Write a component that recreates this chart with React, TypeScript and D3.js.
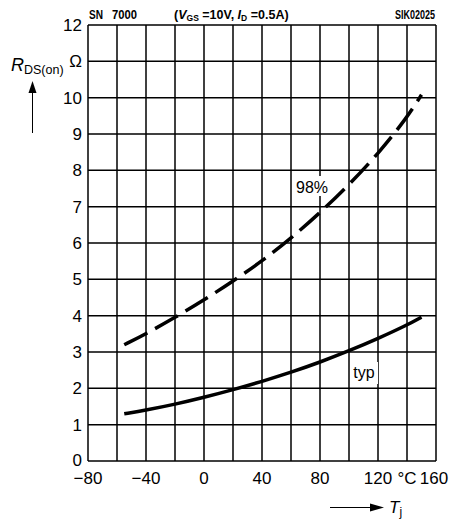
import React from "react";
import * as d3 from "d3";

const xTicks = [-80, -40, 0, 40, 80, 120, 160];
const yTicks = [0, 1, 2, 3, 4, 5, 6, 7, 8, 9, 10, 12];
const xGrid = [-80, -60, -40, -20, 0, 20, 40, 60, 80, 100, 120, 140, 160];
const yGrid = [0, 1, 2, 3, 4, 5, 6, 7, 8, 9, 10, 11, 12];

const tempPts = [-55, -40, -20, 0, 20, 40, 60, 80, 100, 120, 140, 150];
const typVals = [1.3, 1.4, 1.56, 1.75, 1.96, 2.19, 2.44, 2.72, 3.03, 3.37, 3.74, 3.96];
const p98Vals = [3.2, 3.5, 3.95, 4.43, 4.95, 5.5, 6.13, 6.83, 7.6, 8.45, 9.45, 10.08];

const W = 454, H = 520;
const left = 88, right = 436, top = 25, bottom = 461;

export default function App() {
  const x = d3.scaleLinear().domain([-80, 160]).range([left, right]);
  const y = d3.scaleLinear().domain([0, 12]).range([bottom, top]);
  const line = d3
    .line<number>()
    .x((_, i) => x(tempPts[i]))
    .y((v) => y(v))
    .curve(d3.curveBasis);
  const font = "'Liberation Sans', Arial, sans-serif";
  return (
    <svg width={W} height={H} style={{ position: "absolute", left: 0, top: 0, background: "#fff" }} fontFamily={font}>
      <rect width={W} height={H} fill="#fff" />
      {xGrid.map((t) => (
        <line key={"gx" + t} x1={x(t)} x2={x(t)} y1={y(0)} y2={y(12)} stroke="#000" strokeWidth={1.5} />
      ))}
      {yGrid.map((t) => (
        <line key={"gy" + t} x1={x(-80)} x2={x(160)} y1={y(t)} y2={y(t)} stroke="#000" strokeWidth={1.5} />
      ))}
      <path d={line(typVals) || ""} fill="none" stroke="#000" strokeWidth={3.5} />
      <path d={line(p98Vals) || ""} fill="none" stroke="#000" strokeWidth={3.5} strokeDasharray="26 9" />
      <rect x={297} y={176} width={30} height={20} fill="#fff" />
      <text x={312} y={193} fontSize={16} textAnchor="middle">98%</text>
      <rect x={350} y={362} width={28} height={22} fill="#fff" />
      <text x={364} y={378} fontSize={16} textAnchor="middle">typ</text>
      {yTicks.map((t) => (
        <text key={"yl" + t} x={82} y={y(t) + (t === 0 ? 5 : 6)} fontSize={17} textAnchor="end">{t}</text>
      ))}
      <text x={82} y={y(11) + 6} fontSize={17} textAnchor="end">Ω</text>
      {xTicks.map((t) => (
        <text key={"xl" + t} x={x(t) + (t === 160 ? -2 : 0)} y={484} fontSize={17} textAnchor="middle">
          {t < 0 ? "\u2212" + Math.abs(t) : String(t)}
        </text>
      ))}
      <text x={x(140)} y={484} fontSize={17} textAnchor="middle">°C</text>
      <text x={89} y={19} fontSize={12.5} fontWeight="bold" textLength={14} lengthAdjust="spacingAndGlyphs">SN</text>
      <text x={112} y={19} fontSize={12.5} fontWeight="bold" textLength={25} lengthAdjust="spacingAndGlyphs">7000</text>
      <text x={174} y={19} fontSize={12.5} fontWeight="bold">
        (<tspan fontStyle="italic">V</tspan><tspan fontSize={8.5} dy={2}>GS</tspan><tspan dy={-2}> =10V, </tspan>
        <tspan fontStyle="italic">I</tspan><tspan fontSize={8.5} dy={2}>D</tspan><tspan dy={-2}> =0.5A)</tspan>
      </text>
      <text x={395} y={19} fontSize={12.5} fontWeight="bold" textLength={40} lengthAdjust="spacingAndGlyphs">SIK02025</text>
      <text x={11} y={71} fontSize={18}>
        <tspan fontStyle="italic">R</tspan><tspan fontSize={12.5} dy={3}>DS(on)</tspan>
      </text>
      <line x1={32.5} x2={32.5} y1={133} y2={90} stroke="#000" strokeWidth={1} />
      <path d="M28.5,93 L32.5,81 L36.5,93 Z" fill="#000" />
      <line x1={330} x2={372} y1={507.5} y2={507.5} stroke="#000" strokeWidth={1} />
      <path d="M370,503.5 L384,507.5 L370,511.5 Z" fill="#000" />
      <text x={389} y={513} fontSize={17}>
        <tspan fontStyle="italic">T</tspan><tspan fontSize={12} dy={3}>j</tspan>
      </text>
    </svg>
  );
}
